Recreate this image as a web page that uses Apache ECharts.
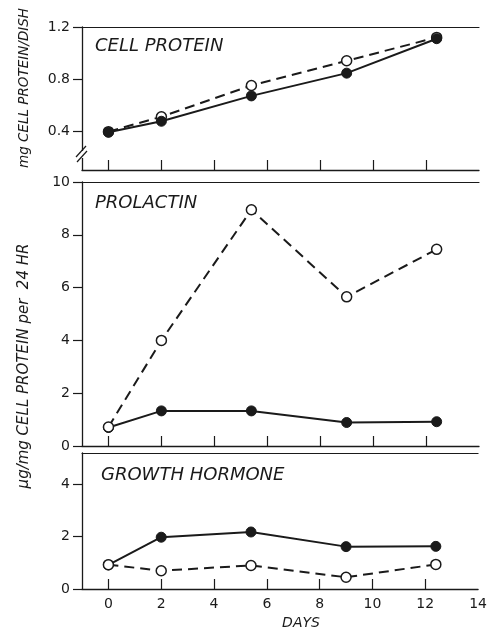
<!DOCTYPE html>
<html>
<head>
<meta charset="utf-8">
<script src="https://cdn.jsdelivr.net/npm/echarts@6/dist/echarts.min.js"></script>
<style>html,body{margin:0;padding:0;background:#fff}#c{width:490px;height:632px}</style>
</head>
<body>
<div id="c"></div>
<script>
// ---- data ----
const days = [0, 2, 5.4, 9, 12.4];
const proteinFilled = [0.39, 0.475, 0.67, 0.845, 1.11];
const proteinOpen = [0.395, 0.51, 0.75, 0.94, 1.12];
const prolactinFilled = [0.7, 1.33, 1.33, 0.89, 0.92];
const prolactinOpen = [0.72, 4.0, 8.95, 5.65, 7.45];
const ghFilled = [0.92, 1.98, 2.18, 1.62, 1.63];
const ghOpen = [0.93, 0.70, 0.90, 0.45, 0.94];
const xTickValues = [0, 2, 4, 6, 8, 10, 12];
const xLabelValues = [0, 2, 4, 6, 8, 10, 12, 14];
const proteinTicks = [0.4, 0.8, 1.2];
const prolactinTicks = [0, 2, 4, 6, 8, 10];
const ghTicks = [0, 2, 4];
const panelTitles = ['CELL PROTEIN', 'PROLACTIN', 'GROWTH HORMONE'];
const yTitles = ['mg CELL PROTEIN/DISH', 'μg/mg CELL PROTEIN per  24 HR'];
const xTitle = 'DAYS';

const INK = '#1a1a1a';
const FONT = '"DejaVu Sans", "Liberation Sans", sans-serif';

const grids = [
  {left: 82, right: 11, top: 27, height: 143},
  {left: 82, right: 11, top: 182, height: 264},
  {left: 82, right: 11, top: 453, height: 136}
];

function bottomX(i) {
  return {
    type: 'value', gridIndex: i, min: -1, max: 14, position: 'bottom',
    axisLine: {show: true, onZero: false, lineStyle: {color: INK, width: 1.3}},
    axisTick: {show: true, inside: true, length: 10, customValues: xTickValues, lineStyle: {color: INK, width: 1.2}},
    axisLabel: {show: i === 2, customValues: xLabelValues, color: INK, fontSize: 14, fontFamily: FONT, margin: 8},
    splitLine: {show: false}
  };
}
function topX(i) {
  return {
    type: 'value', gridIndex: i, min: -1, max: 14, position: 'top',
    axisLine: {show: true, onZero: false, lineStyle: {color: INK, width: 1.1}},
    axisTick: {show: false}, axisLabel: {show: false}, splitLine: {show: false}
  };
}
function leftY(i, min, max, ticks, fmt) {
  return {
    type: 'value', gridIndex: i, min: min, max: max,
    axisLine: {show: true, onZero: false, lineStyle: {color: INK, width: 1.3}},
    axisTick: {show: true, inside: false, length: 9, customValues: ticks, lineStyle: {color: INK, width: 1.2}},
    axisLabel: {customValues: ticks, color: INK, fontSize: 14, fontFamily: FONT, margin: 12, formatter: fmt},
    splitLine: {show: false}
  };
}

function filledSeries(i, vals, z) {
  return {
    type: 'line', xAxisIndex: i * 2, yAxisIndex: i, z: z,
    data: days.map((d, k) => [d, vals[k]]),
    symbol: 'circle', symbolSize: 10,
    itemStyle: {color: INK, borderColor: INK, borderWidth: 1},
    lineStyle: {color: INK, width: 2, type: 'solid'},
    animation: false
  };
}
function openSeries(i, vals, z) {
  return {
    type: 'line', xAxisIndex: i * 2, yAxisIndex: i, z: z,
    data: days.map((d, k) => [d, vals[k]]),
    symbol: 'circle', symbolSize: 10,
    itemStyle: {color: '#ffffff', borderColor: INK, borderWidth: 1.5},
    lineStyle: {color: INK, width: 2, type: [10, 6]},
    animation: false
  };
}

const titleText = (t, x, y) => ({
  type: 'text', x: x, y: y,
  style: {text: t, fill: INK, font: 'italic 18px ' + FONT, textAlign: 'left', textVerticalAlign: 'middle'}
});

const option = {
  backgroundColor: '#ffffff',
  animation: false,
  grid: grids,
  xAxis: [bottomX(0), topX(0), bottomX(1), topX(1), bottomX(2), topX(2)],
  yAxis: [
    leftY(0, 0.1, 1.2, proteinTicks, v => v.toFixed(1)),
    leftY(1, 0, 10, prolactinTicks, v => String(v)),
    leftY(2, 0, 5.2, ghTicks, v => String(v))
  ],
  series: [
    openSeries(0, proteinOpen, 2),
    filledSeries(0, proteinFilled, 3),
    filledSeries(1, prolactinFilled, 2),
    openSeries(1, prolactinOpen, 3),
    filledSeries(2, ghFilled, 2),
    openSeries(2, ghOpen, 3)
  ],
  graphic: [
    titleText(panelTitles[0], 95, 46),
    titleText(panelTitles[1], 95, 203),
    titleText(panelTitles[2], 101, 475),
    {type: 'text', x: 24, y: 88, rotation: Math.PI / 2,
     style: {text: yTitles[0], fill: INK, font: 'italic 13.5px ' + FONT, textAlign: 'center', textVerticalAlign: 'middle'}},
    {type: 'text', x: 24, y: 366, rotation: Math.PI / 2,
     style: {text: yTitles[1], fill: INK, font: 'italic 15px ' + FONT, textAlign: 'center', textVerticalAlign: 'middle'}},
    {type: 'text', x: 301, y: 623,
     style: {text: xTitle, fill: INK, font: 'italic 14px ' + FONT, textAlign: 'center', textVerticalAlign: 'middle'}},
    // axis break marks
    {type: 'rect', shape: {x: 78, y: 151, width: 8, height: 7}, style: {fill: '#ffffff'}, z: 50},
    {type: 'line', shape: {x1: 76, y1: 157, x2: 86, y2: 146}, style: {stroke: INK, lineWidth: 1.2}, z: 51},
    {type: 'line', shape: {x1: 77, y1: 162, x2: 87, y2: 151}, style: {stroke: INK, lineWidth: 1.2}, z: 51}
  ]
};

const chart = echarts.init(document.getElementById('c'), null, {renderer: 'canvas'});
chart.setOption(option);
</script>
</body>
</html>
